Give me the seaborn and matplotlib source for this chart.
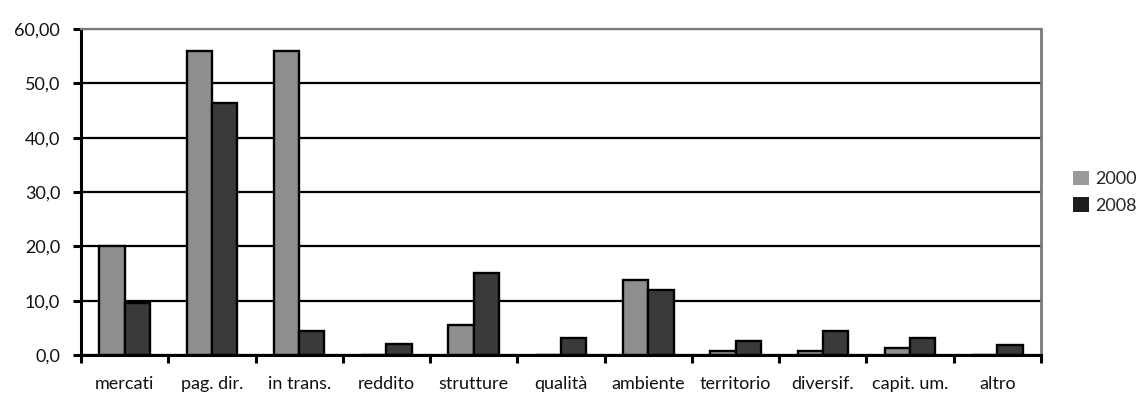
import matplotlib
matplotlib.use("Agg")
import matplotlib.pyplot as plt
import matplotlib.ticker as mticker
from matplotlib.patches import Patch
import numpy as np
import pandas as pd
import seaborn as sns

categorie = ["mercati", "pag. dir.", "in trans.", "reddito", "strutture", "qualità",
             "ambiente", "territorio", "diversif.", "capit. um.", "altro"]
anni = ["2000", "2008"]
valori_2000 = [20.0, 55.9, 55.9, 0.0, 5.6, 0.0, 13.8, 0.7, 0.7, 1.3, 0.0]
valori_2008 = [9.6, 46.4, 4.5, 2.0, 15.1, 3.2, 11.9, 2.5, 4.4, 3.1, 1.9]
tick_y = [0, 10, 20, 30, 40, 50, 60]
etichette_y = ["0,0", "10,0", "20,0", "30,0", "40,0", "50,0", "60,00"]
colori = {"2000": "#8e8e8e", "2008": "#3a3a3a"}
colori_legenda = {"2000": "#9a9a9a", "2008": "#1e1e1e"}

df = pd.DataFrame({
    "categoria": categorie * 2,
    "anno": [anni[0]] * len(categorie) + [anni[1]] * len(categorie),
    "valore": valori_2000 + valori_2008,
})

sns.set_theme(style="white")
plt.rcParams["font.family"] = ["Lato", "DejaVu Sans"]

fig = plt.figure(figsize=(11.37, 3.94), dpi=100)
ax = fig.add_axes([0.0712, 0.099, 0.8444, 0.8274])

sns.barplot(data=df, x="categoria", y="valore", hue="anno", order=categorie,
            hue_order=anni, palette=colori, width=0.58, gap=0,
            edgecolor="black", linewidth=1.7, saturation=1, legend=False, ax=ax)

ax.set_ylim(0, 60)
ax.set_xlim(-0.5, len(categorie) - 0.5)
ax.set_yticks(tick_y)
ax.yaxis.set_major_formatter(mticker.FixedFormatter(etichette_y))
ax.set_xlabel("")
ax.set_ylabel("")

ax.set_axisbelow(True)
ax.grid(axis="y", color="black", linewidth=1.6)
ax.get_ygridlines()[-1].set_color("#7a7a7a")

for lato in ["left", "bottom"]:
    ax.spines[lato].set_color("black")
    ax.spines[lato].set_linewidth(2.2)
ax.spines["bottom"].set_zorder(5)
ax.spines["top"].set_color("#7a7a7a")
ax.spines["top"].set_linewidth(1.6)
ax.spines["right"].set_color("#7a7a7a")
ax.spines["right"].set_linewidth(2.0)

ax.tick_params(axis="y", which="major", direction="out", length=6, width=2.2,
               color="black", labelsize=13, pad=9, left=True)
ax.tick_params(axis="x", which="major", length=0, labelsize=13, pad=15)
ax.xaxis.set_minor_locator(mticker.FixedLocator(np.arange(-0.5, len(categorie), 1.0)))
ax.tick_params(axis="x", which="minor", direction="out", length=5.5, width=2.2,
               color="black", bottom=True)
for t in ax.get_xticklabels() + ax.get_yticklabels():
    t.set_color("#111111")

maniglie = [Patch(facecolor=colori_legenda[a], edgecolor="none", label=a) for a in anni]
fig.legend(handles=maniglie, loc="center left", bbox_to_anchor=(0.944, 0.512),
           frameon=False, fontsize=13, handlelength=0.85, handleheight=0.85,
           handletextpad=0.35, labelspacing=0.55, borderpad=0, borderaxespad=0)

fig.savefig("out.png", dpi=100, facecolor="white")
